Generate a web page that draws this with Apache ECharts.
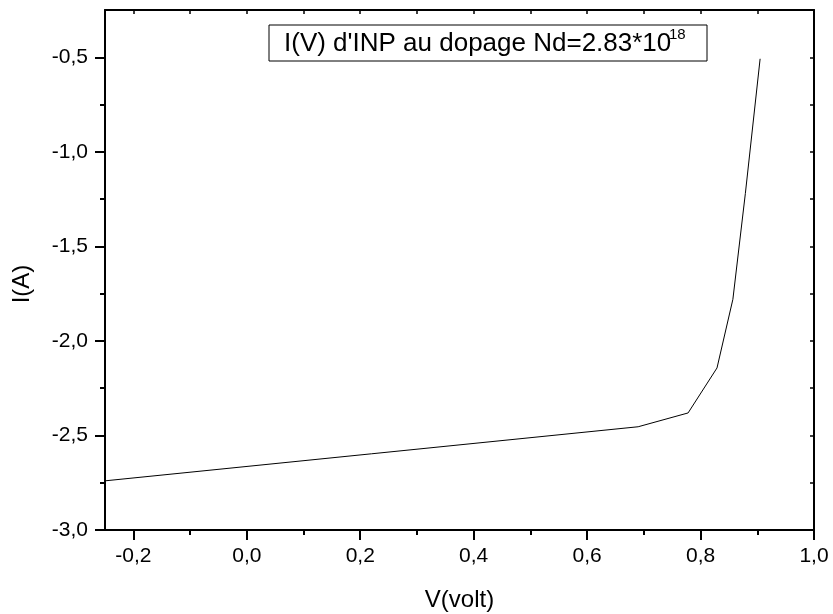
<!DOCTYPE html>
<html>
<head>
<meta charset="utf-8">
<script src="https://cdn.jsdelivr.net/npm/echarts@6/dist/echarts.min.js"></script>
<style>
  html, body { margin: 0; padding: 0; background: #fff; }
  #chart { width: 833px; height: 614px; }
</style>
</head>
<body>
<div id="chart"></div>
<script>
// ---- data ----
var voltage = [-0.25, 0.690, 0.778, 0.829, 0.857, 0.879, 0.905];
var current = [-2.74, -2.454, -2.381, -2.143, -1.78, -1.22, -0.508];

var xMajorTicks = [-0.2, 0.0, 0.2, 0.4, 0.6, 0.8, 1.0];
var xMinorTicks = [-0.1, 0.1, 0.3, 0.5, 0.7, 0.9];
var yMajorTicks = [-3.0, -2.5, -2.0, -1.5, -1.0, -0.5];
var yMinorTicks = [-2.75, -2.25, -1.75, -1.25, -0.75];

var xRange = [-0.25, 1.0];
var yRange = [-3.0, -0.25];

var xTitle = 'V(volt)';
var yTitle = 'I(A)';
var annotationText = "I(V) d'INP au dopage Nd=2.83*10";
var annotationSup = '18';

// ---- chart ----
var FONT = '"Liberation Sans", Arial, sans-serif';
function fmt(v) { return (Math.round(v * 10) / 10).toFixed(1).replace('.', ','); }
var allX = xMajorTicks.concat(xMinorTicks).sort(function(a,b){return a-b;});
var allY = yMajorTicks.concat(yMinorTicks).sort(function(a,b){return a-b;});

var chart = echarts.init(document.getElementById('chart'), null, { renderer: 'canvas' });
var blackLine = { show: true, onZero: false, lineStyle: { color: '#000', width: 2 } };

chart.setOption({
  animation: false,
  backgroundColor: '#fff',
  grid: { left: 105, right: 19, top: 10, bottom: 84, containLabel: false, outerBoundsMode: 'none' },
  xAxis: [
    {
      type: 'value', position: 'bottom', min: xRange[0], max: xRange[1],
      axisLine: blackLine,
      axisTick: { show: true, customValues: xMajorTicks, length: 10, lineStyle: { color: '#000', width: 2 } },
      axisLabel: { show: true, customValues: xMajorTicks, formatter: fmt, margin: 16,
                   color: '#000', fontSize: 21, fontFamily: FONT },
      splitLine: { show: false },
      name: xTitle, nameLocation: 'middle', nameGap: 58,
      nameTextStyle: { color: '#000', fontSize: 24, fontFamily: FONT }
    },
    {
      type: 'value', position: 'bottom', min: xRange[0], max: xRange[1],
      axisLine: { show: false, onZero: false },
      axisTick: { show: true, customValues: xMinorTicks, length: 5, lineStyle: { color: '#000', width: 2 } },
      axisLabel: { show: false }, splitLine: { show: false }
    },
    {
      type: 'value', position: 'top', min: xRange[0], max: xRange[1],
      axisLine: blackLine,
      axisTick: { show: true, inside: true, customValues: allX, length: 4, lineStyle: { color: '#000', width: 1.5 } },
      axisLabel: { show: false }, splitLine: { show: false }
    }
  ],
  yAxis: [
    {
      type: 'value', position: 'left', min: yRange[0], max: yRange[1],
      axisLine: blackLine,
      axisTick: { show: true, customValues: yMajorTicks, length: 10, lineStyle: { color: '#000', width: 2 } },
      axisLabel: { show: true, customValues: yMajorTicks, formatter: fmt, margin: 17,
                   color: '#000', fontSize: 21, fontFamily: FONT },
      splitLine: { show: false }
    },
    {
      type: 'value', position: 'left', min: yRange[0], max: yRange[1],
      axisLine: { show: false, onZero: false },
      axisTick: { show: true, customValues: yMinorTicks, length: 5, lineStyle: { color: '#000', width: 2 } },
      axisLabel: { show: false }, splitLine: { show: false }
    },
    {
      type: 'value', position: 'right', min: yRange[0], max: yRange[1],
      axisLine: blackLine,
      axisTick: { show: true, inside: true, customValues: allY, length: 4, lineStyle: { color: '#000', width: 1.5 } },
      axisLabel: { show: false }, splitLine: { show: false }
    }
  ],
  series: [{
    type: 'line',
    xAxisIndex: 0, yAxisIndex: 0,
    data: voltage.map(function(v, i){ return [v, current[i]]; }),
    showSymbol: false, symbol: 'none', smooth: false,
    lineStyle: { color: '#000', width: 1 },
    z: 5
  }],
  graphic: [
    {
      type: 'text', x: 22, y: 284, rotation: Math.PI / 2,
      style: { text: yTitle, fill: '#000', fontSize: 24, fontFamily: FONT,
               align: 'center', verticalAlign: 'middle' }
    },
    {
      type: 'rect', shape: { x: 269, y: 25, width: 438, height: 36 },
      style: { fill: '#fff', stroke: '#000', lineWidth: 1 }, z: 10
    },
    {
      type: 'text', x: 284, y: 44, z: 11,
      style: { text: annotationText, fill: '#000', fontSize: 26, fontFamily: FONT,
               align: 'left', verticalAlign: 'middle' }
    },
    {
      type: 'text', x: 669, y: 35, z: 11,
      style: { text: annotationSup, fill: '#000', fontSize: 15, fontFamily: FONT,
               align: 'left', verticalAlign: 'middle' }
    }
  ]
});
</script>
</body>
</html>
